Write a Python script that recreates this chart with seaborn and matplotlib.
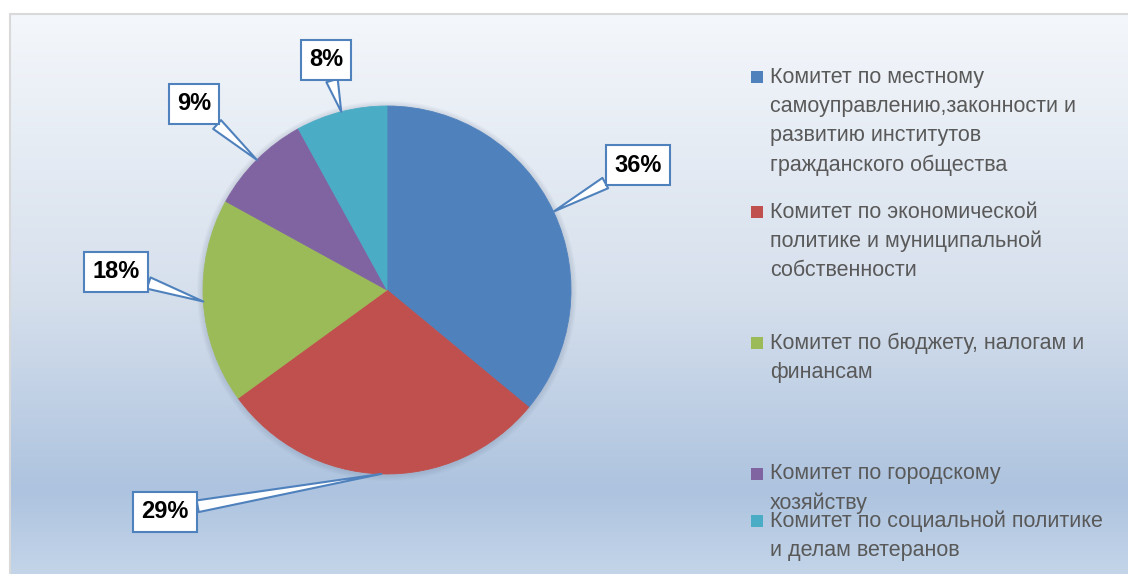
import numpy as np
import matplotlib
matplotlib.use("Agg")
import matplotlib.pyplot as plt
import seaborn as sns
from matplotlib.patches import Rectangle, Circle

# %% data
committees = [
    "Комитет по местному\nсамоуправлению,законности и\nразвитию институтов\nгражданского общества",
    "Комитет по экономической\nполитике и муниципальной\nсобственности",
    "Комитет по бюджету, налогам и\nфинансам",
    "Комитет по городскому\nхозяйству",
    "Комитет по социальной политике\nи делам ветеранов",
]
shares = [36, 29, 18, 9, 8]
slice_colors = ["#4f81bd", "#c0504d", "#9bbb59", "#8064a2", "#4bacc6"]

sns.set_theme(style="white")
plt.rcParams["font.family"] = ["Liberation Sans", "DejaVu Sans"]

W, H = 1128, 574
fig = plt.figure(figsize=(W / 100, H / 100), dpi=100)
ax = fig.add_axes([0, 0, 1, 1])

# %% background gradient (white -> light blue)
stops_y = [14, 300, 490, 574]
stops_c = np.array([[0xf4, 0xf7, 0xfb], [0xd5, 0xdf, 0xec],
                    [0xad, 0xc3, 0xdf], [0xc4, 0xd5, 0xe9]]) / 255
yy = np.arange(14, H)
grad = np.stack([np.interp(yy, stops_y, stops_c[:, k]) for k in range(3)], axis=-1)
grad = grad[:, None, :]

# %% pie
cx, cy, r = 387, H - 290, 184
for k in range(1, 7):
    ax.add_patch(Circle((cx, cy - 1), r + k, color="#7f8fa6", alpha=0.05, lw=0, zorder=1))
wedges, _ = ax.pie(shares, colors=sns.color_palette(slice_colors), startangle=90,
                   counterclock=False, center=(cx, cy), radius=r,
                   wedgeprops=dict(linewidth=0.6))
for w in wedges:
    w.set_edgecolor(w.get_facecolor())
    w.set_zorder(2)

ax.imshow(grad, extent=(10, W, 0, H - 14), aspect="auto", zorder=0)
ax.plot([10, W], [H - 14, H - 14], color="#d9d9d9", lw=1.5, zorder=0.5)
ax.plot([10, 10], [0, H - 14], color="#d9d9d9", lw=1.5, zorder=0.5)
ax.set_xlim(0, W)
ax.set_ylim(0, H)
ax.axis("off")

# %% callout labels
box_pos = [(638, 165), (165, 512), (116, 272), (194, 104), (326, 60)]
total = sum(shares)
for w, v, (bx, by) in zip(wedges, shares, box_pos):
    mid = np.deg2rad((w.theta1 + w.theta2) / 2)
    px, py = cx + r * np.cos(mid), cy + r * np.sin(mid)
    ax.annotate(f"{round(v / total * 100)}%", xy=(px, py), xytext=(bx, H - by),
                ha="center", va="center", fontsize=17, fontweight="bold",
                color="black", zorder=5,
                bbox=dict(boxstyle="square,pad=0.35", fc="white", ec="#4f81bd", lw=1.5),
                arrowprops=dict(arrowstyle="wedge,tail_width=0.5,shrink_factor=0.5",
                                fc="white", ec="#4f81bd", lw=1.5,
                                shrinkA=0, shrinkB=0))

# %% legend
item_y = [77, 212, 343, 474, 521]
step = 29.3
for name, col, y0 in zip(committees, slice_colors, item_y):
    ax.add_patch(Rectangle((751, H - y0 - 6), 12, 12, color=col, lw=0, zorder=3))
    for i, line in enumerate(name.split("\n")):
        ax.text(770, H - (y0 + i * step), line, fontsize=15.5, color="#595959",
                ha="left", va="center", zorder=3)

fig.savefig("out.png", dpi=100)
